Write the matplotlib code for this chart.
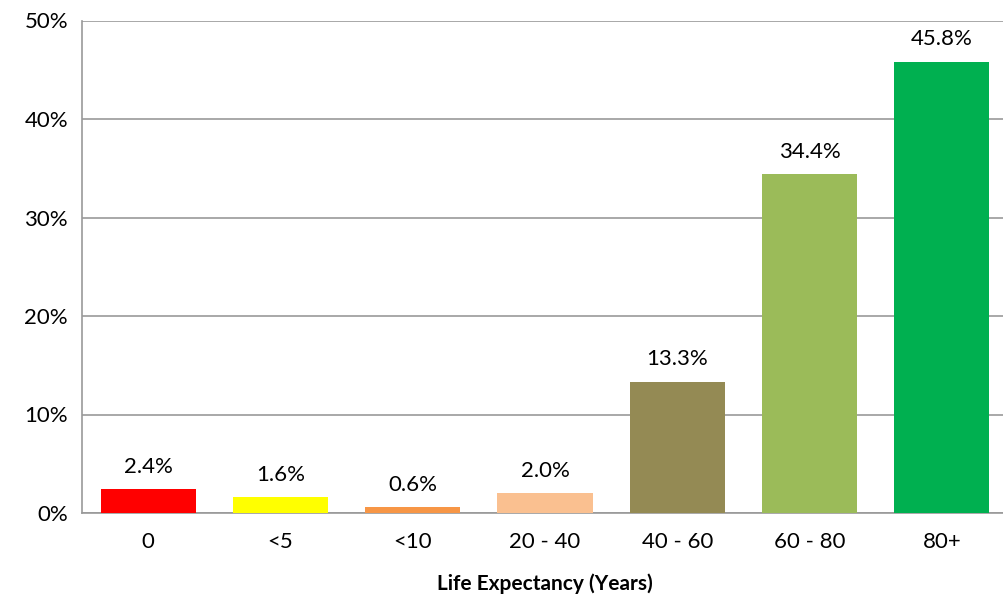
import numpy as np
import matplotlib.pyplot as plt

plt.rcParams['font.family'] = ['Lato', 'DejaVu Sans']

categories = ["0", "<5", "<10", "20 - 40", "40 - 60", "60 - 80", "80+"]
shares = [2.4, 1.6, 0.6, 2.0, 13.3, 34.4, 45.8]
colors = ["#FF0000", "#FFFF00", "#F79646", "#FAC090", "#948A54", "#9BBB59", "#00B050"]

fig = plt.figure(figsize=(10.04, 6.03), dpi=100)
ax = fig.add_axes([82/1004, 90/603, 926/1004, 492.5/603])

x = np.arange(len(categories))
bars = ax.bar(x, shares, width=0.72, color=colors, zorder=3)

for b, v in zip(bars, shares):
    ax.annotate(f"{v:.1f}%", (b.get_x() + b.get_width()/2, v),
                xytext=(0, 9), textcoords="offset points",
                ha="center", va="bottom", fontsize=16)

ax.set_xlim(-0.5, len(categories) - 0.5)
ax.set_ylim(0, 50)
ax.set_yticks(np.arange(0, 51, 10))
ax.set_yticklabels([f"{t}%" for t in range(0, 51, 10)])
ax.set_xticks(x)
ax.set_xticklabels(categories)
ax.tick_params(axis="both", length=0, labelsize=16)
ax.tick_params(axis="y", pad=10)
ax.tick_params(axis="x", pad=14)
ax.grid(axis="y", color="#999999", linewidth=1.2, zorder=0)
for s in ["top", "right"]:
    ax.spines[s].set_visible(False)
ax.spines["left"].set_color("#999999")
ax.spines["bottom"].set_color("#999999")
ax.spines["left"].set_linewidth(1.2)
ax.spines["bottom"].set_linewidth(1.2)

ax.set_xlabel("Life Expectancy (Years)", fontsize=15, fontweight="bold", labelpad=15)

fig.savefig("out.png", dpi=100)
